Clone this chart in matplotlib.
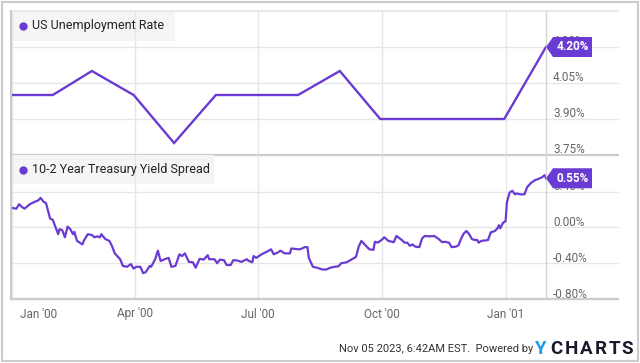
import matplotlib
matplotlib.use('Agg')
import matplotlib.pyplot as plt
import matplotlib.dates as mdates
import matplotlib.transforms as mtransforms
from matplotlib.patches import Rectangle, Polygon
from matplotlib.lines import Line2D
from matplotlib import font_manager
import pandas as pd

# ---------------- data ----------------
unemp_dates = ['1999-12-31', '2000-01-31', '2000-02-29', '2000-03-31', '2000-04-30',
               '2000-05-31', '2000-06-30', '2000-07-31', '2000-08-31', '2000-09-30',
               '2000-10-31', '2000-11-30', '2000-12-31', '2001-01-31']
unemp_values = [4.0, 4.0, 4.1, 4.0, 3.8, 4.0, 4.0, 4.0, 4.1, 3.9, 3.9, 3.9, 3.9, 4.2]

spread_dates = [
    '1999-12-31', '2000-01-04', '2000-01-06', '2000-01-08', '2000-01-10', '2000-01-14',
    '2000-01-18', '2000-01-20', '2000-01-22', '2000-01-24', '2000-01-26', '2000-01-29',
    '2000-01-31', '2000-02-04', '2000-02-05', '2000-02-07', '2000-02-09', '2000-02-11',
    '2000-02-13', '2000-02-15', '2000-02-16', '2000-02-18', '2000-02-22', '2000-02-23',
    '2000-02-26', '2000-02-29', '2000-03-02', '2000-03-04', '2000-03-06', '2000-03-07',
    '2000-03-10', '2000-03-13', '2000-03-15', '2000-03-17', '2000-03-21', '2000-03-23',
    '2000-03-26', '2000-03-29', '2000-03-31', '2000-04-02', '2000-04-05', '2000-04-07',
    '2000-04-09', '2000-04-12', '2000-04-13', '2000-04-16', '2000-04-18', '2000-04-20',
    '2000-04-23', '2000-04-26', '2000-04-28', '2000-05-01', '2000-05-04', '2000-05-06',
    '2000-05-08', '2000-05-11', '2000-05-14', '2000-05-16', '2000-05-19', '2000-05-22',
    '2000-05-25', '2000-05-26', '2000-05-30', '2000-06-01', '2000-06-03', '2000-06-06',
    '2000-06-08', '2000-06-11', '2000-06-13', '2000-06-16', '2000-06-19', '2000-06-23',
    '2000-06-24', '2000-06-27', '2000-06-28', '2000-06-30', '2000-07-04', '2000-07-08',
    '2000-07-11', '2000-07-13', '2000-07-16', '2000-07-18', '2000-07-21', '2000-07-25',
    '2000-07-26', '2000-07-29', '2000-08-01', '2000-08-03', '2000-08-05', '2000-08-07',
    '2000-08-08', '2000-08-11', '2000-08-14', '2000-08-18', '2000-08-21', '2000-08-24',
    '2000-08-27', '2000-08-30', '2000-09-01', '2000-09-05', '2000-09-09', '2000-09-12',
    '2000-09-14', '2000-09-16', '2000-09-19', '2000-09-22', '2000-09-25', '2000-09-26',
    '2000-09-28', '2000-10-01', '2000-10-03', '2000-10-06', '2000-10-10', '2000-10-12',
    '2000-10-16', '2000-10-18', '2000-10-20', '2000-10-22', '2000-10-24', '2000-10-26',
    '2000-10-29', '2000-10-31', '2000-11-02', '2000-11-06', '2000-11-09', '2000-11-12',
    '2000-11-15', '2000-11-17', '2000-11-20', '2000-11-22', '2000-11-25', '2000-11-27',
    '2000-11-29', '2000-12-01', '2000-12-03', '2000-12-05', '2000-12-07', '2000-12-09',
    '2000-12-11', '2000-12-12', '2000-12-14', '2000-12-17', '2000-12-19', '2000-12-21',
    '2000-12-24', '2000-12-26', '2000-12-27', '2000-12-28', '2000-12-30', '2001-01-01',
    '2001-01-02', '2001-01-04', '2001-01-06', '2001-01-08', '2001-01-09', '2001-01-12',
    '2001-01-15', '2001-01-17', '2001-01-20', '2001-01-21', '2001-01-23', '2001-01-25',
    '2001-01-28', '2001-01-30', '2001-01-31']
spread_values = [
    0.22, 0.21, 0.26, 0.23, 0.21, 0.26,
    0.29, 0.30, 0.33, 0.29, 0.27, 0.10,
    0.085, -0.075, -0.02, -0.03, -0.11, 0.01,
    -0.02, -0.075, -0.05, -0.15, -0.19, -0.15,
    -0.075, -0.085, -0.11, -0.10, -0.11, -0.075,
    -0.13, -0.15, -0.21, -0.29, -0.355, -0.43,
    -0.44, -0.41, -0.46, -0.44, -0.44, -0.51,
    -0.50, -0.43, -0.44, -0.355, -0.26, -0.375,
    -0.355, -0.34, -0.44, -0.43, -0.30, -0.32,
    -0.29, -0.385, -0.39, -0.45, -0.35, -0.36,
    -0.31, -0.355, -0.355, -0.40, -0.36, -0.365,
    -0.42, -0.42, -0.365, -0.37, -0.385, -0.355,
    -0.37, -0.39, -0.32, -0.34, -0.30, -0.27,
    -0.245, -0.30, -0.28, -0.26, -0.29, -0.29,
    -0.235, -0.24, -0.245, -0.235, -0.22, -0.22,
    -0.34, -0.44, -0.45, -0.47, -0.47, -0.45,
    -0.44, -0.435, -0.40, -0.39, -0.355, -0.33,
    -0.215, -0.15, -0.20, -0.245, -0.25, -0.16,
    -0.17, -0.14, -0.11, -0.15, -0.165, -0.095,
    -0.14, -0.17, -0.17, -0.205, -0.19, -0.215,
    -0.22, -0.125, -0.095, -0.10, -0.095, -0.125,
    -0.165, -0.16, -0.17, -0.22, -0.215, -0.20,
    -0.125, -0.067, -0.04, -0.075, -0.13, -0.14,
    -0.14, -0.17, -0.15, -0.145, -0.14, -0.055,
    -0.04, -0.01, 0.025, -0.01, 0.05, 0.07,
    0.28, 0.39, 0.41, 0.37, 0.38, 0.37,
    0.37, 0.45, 0.50, 0.51, 0.53, 0.54,
    0.56, 0.585, 0.55]

x_tick_dates = ['2000-01-01', '2000-04-01', '2000-07-01', '2000-10-01', '2001-01-01']
x_tick_labels = ["Jan '00", "Apr '00", "Jul '00", "Oct '00", "Jan '01"]
top_ticks = [3.75, 3.90, 4.05, 4.20]
bottom_ticks = [-0.80, -0.40, 0.00, 0.40]
top_title = 'US Unemployment Rate'
bottom_title = '10-2 Year Treasury Yield Spread'
footer = 'Nov 05 2023, 6:42AM EST.  Powered by'

# ---------------- style ----------------
names = {f.name for f in font_manager.fontManager.ttflist}
NARROW = 'Liberation Sans Narrow' if 'Liberation Sans Narrow' in names else 'Roboto'
plt.rcParams['font.family'] = [NARROW, 'Roboto', 'DejaVu Sans']

PURPLE = '#6a3bd2'
GRID = '#e6e6e6'
EDGE = '#cccccc'
LABEL = '#666666'

W, H = 640, 363
L, R = 11, 546
fig = plt.figure(figsize=(W / 100, H / 100), dpi=100)
fig.patch.set_facecolor('white')


def rect(top, bottom):
    return [L / W, 1 - bottom / H, (R - L) / W, (bottom - top) / H]


ax1 = fig.add_axes(rect(11, 155))
ax2 = fig.add_axes(rect(155, 299))

xmin = mdates.date2num(pd.Timestamp('1999-12-31'))
xmax = mdates.date2num(pd.Timestamp('2001-01-31'))
ud = mdates.date2num(pd.to_datetime(unemp_dates))
sd = mdates.date2num(pd.to_datetime(spread_dates))
xt = mdates.date2num(pd.to_datetime(x_tick_dates))

ext = (618 - L) / (R - L)

for ax, ticks, lim in ((ax1, top_ticks, (3.75, 4.35)), (ax2, bottom_ticks, (-0.80, 0.81))):
    ax.set_xlim(xmin, xmax)
    ax.set_ylim(*lim)
    for s in ax.spines.values():
        s.set_visible(False)
    ax.set_xticks([])
    ax.set_yticks([])
    ax.patch.set_alpha(0)
    for d in xt:
        ax.axvline(d, color=GRID, lw=1, zorder=1)
    ytrans = mtransforms.blended_transform_factory(ax.transAxes, ax.transData)
    lab_trans = mtransforms.offset_copy(ytrans, fig=fig, x=0, y=1.5, units='dots')
    for i, t in enumerate(ticks):
        if i == 0:
            ax.axhline(t, 0, ext, color=EDGE, lw=1.6, clip_on=False, zorder=1)
        else:
            ax.axhline(t, 0, ext, color=GRID, lw=1, clip_on=False, zorder=1)
        ax.text((553 - L) / (R - L), t, f'{t:.2f}%', transform=lab_trans, ha='left',
                va='baseline', fontsize=8.5, color=LABEL, zorder=2, clip_on=False)

# top border line of upper panel
ax1.axhline(4.35, 0, ext, color=GRID, lw=1.2, clip_on=False, zorder=1)

# lines
ax1.plot(ud, unemp_values, color=PURPLE, lw=1.7, zorder=3, solid_joinstyle='miter')
ax2.plot(sd, spread_values, color=PURPLE, lw=1.6, zorder=3)

# legend boxes
for ax, title, wpx, hpx in ((ax1, top_title, 175 - L, 30), (ax2, bottom_title, 214 - L, 29)):
    hh = hpx / 144
    ax.add_patch(Rectangle((0, 1 - hh), wpx / (R - L), hh, transform=ax.transAxes,
                           facecolor='#f5f5f5', edgecolor='none', zorder=0.5))
    yc = 1 - hh / 2
    ax.plot([(23 - L) / (R - L)], [yc], 'o', ms=5, color=PURPLE, transform=ax.transAxes,
            zorder=4, clip_on=False)
    ax.text((32 - L) / (R - L), yc, title, transform=ax.transAxes, ha='left', va='center',
            fontsize=9, color='#222222', zorder=4)

# x labels
xtrans = mtransforms.blended_transform_factory(ax2.transData, ax2.transAxes)
for i, (d, lab) in enumerate(zip(xt, x_tick_labels)):
    if i == 0:
        tr = mtransforms.offset_copy(xtrans, fig=fig, x=8, y=0, units='dots')
        ax2.text(d, -15 / 144, lab, transform=tr, ha='left', va='center', fontsize=8.5,
                 color=LABEL, clip_on=False)
    else:
        ax2.text(d, -15 / 144, lab, transform=xtrans, ha='center', va='center', fontsize=8.5,
                 color=LABEL, clip_on=False)

# frame lines
fig.add_artist(Line2D([L / W, L / W], [1 - 11 / H, 1 - 299 / H], color=EDGE, lw=1.5))
fig.add_artist(Line2D([R / W, R / W], [1 - 11 / H, 1 - 299 / H], color='#d5d5d5', lw=1))
fig.add_artist(Line2D([L / W, 618 / W], [1 - 299 / H, 1 - 299 / H], color=EDGE, lw=1.6))

# badges
fig.canvas.draw()
ident = mtransforms.IdentityTransform()
for ax, x, v, txt in ((ax1, ud[-1], unemp_values[-1], f'{unemp_values[-1]:.2f}%'),
                      (ax2, sd[-1], spread_values[-1], f'{spread_values[-1]:.2f}%')):
    x0, y0 = ax.transData.transform((x, v))
    pts = [(x0, y0), (x0 + 7, y0 + 10), (x0 + 46, y0 + 10), (x0 + 46, y0 - 10), (x0 + 7, y0 - 10)]
    fig.add_artist(Polygon(pts, closed=True, transform=ident, facecolor=PURPLE,
                           edgecolor='none', zorder=10))
    fig.text(x0 + 27, y0, txt, transform=ident, ha='center', va='center', fontsize=8.5,
             fontweight='bold', color='white', zorder=11, family=['Roboto', 'DejaVu Sans'])

# footer
fig.text(533 / W, 1 - 352 / H, footer, ha='right', va='baseline', fontsize=8,
         color='#333333')
letters = ['Y', 'C', 'H', 'A', 'R', 'T', 'S']
lx = [534, 550, 565, 580, 595, 609, 621]
for ch, px in zip(letters, lx):
    fig.text(px / W, 1 - 354 / H, ch, ha='left', va='baseline', fontsize=13.5,
             fontweight='bold', color='#1e9be9' if ch == 'Y' else '#1a1a2a',
             family=['Roboto', 'DejaVu Sans'])

# outer border
fig.add_artist(Rectangle((2 / W, 2 / H), 636 / W, 359 / H, transform=fig.transFigure,
                         fill=False, edgecolor=EDGE, lw=1.5))

fig.savefig('out.png', dpi=100)
